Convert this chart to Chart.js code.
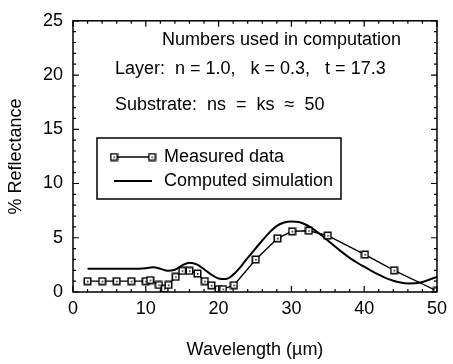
<!DOCTYPE html>
<html>
<head>
<meta charset="utf-8">
<script src="https://cdn.jsdelivr.net/npm/chart.js@4/dist/chart.umd.min.js"></script>
<style>
  html, body { margin: 0; padding: 0; background: #fff; }
  #wrap { width: 453px; height: 364px; }
</style>
</head>
<body>
<div id="wrap"><canvas id="chart" width="453" height="364"></canvas></div>
<script>
// Measured reflectance points
const measuredX = [2, 4, 6, 8, 10, 10.6, 11.8, 12.6, 13.1, 14.1, 15, 16, 17.1, 18.1, 19, 20, 20.6, 22.1, 25.1, 28.1, 30.1, 32.4, 35, 40.1, 44.1, 50];
const measuredY = [1, 1, 1, 1, 1, 1.1, 0.65, 0.3, 0.65, 1.4, 1.95, 1.95, 1.7, 1.0, 0.62, 0.27, 0.27, 0.63, 3.0, 4.95, 5.6, 5.65, 5.2, 3.45, 2.0, 0.1];

// Computed simulation curve
const simX = [2, 4, 6, 8, 10, 11, 12, 13, 14, 15, 16, 17, 18, 19, 20, 21, 22, 23, 24, 25, 26, 27, 28, 29, 30, 31, 32, 33, 34, 35, 36, 37, 38, 39, 40, 41, 42, 43, 44, 45, 46, 47, 48, 49, 50];
const simY = [2.15, 2.15, 2.15, 2.15, 2.2, 2.28, 2.15, 1.95, 2.05, 2.45, 2.7, 2.55, 2.1, 1.6, 1.25, 1.2, 1.6, 2.3, 3.15, 3.95, 4.75, 5.5, 6.1, 6.4, 6.5, 6.45, 6.2, 5.8, 5.3, 4.75, 4.2, 3.65, 3.15, 2.72, 2.33, 1.95, 1.6, 1.28, 1.03, 0.87, 0.79, 0.8, 0.93, 1.15, 1.4];

const seriesLabels = ['Measured data', 'Computed simulation'];
const noteLines = [
    'Numbers used in computation',
    'Layer:  n = 1.0,   k = 0.3,   t = 17.3',
    'Substrate:  ns  =  ks  \u2248  50'
];

const FONT = '"Liberation Sans", Arial, Helvetica, sans-serif';

// Square marker with a dot in the middle
function makeMarker() {
    const c = document.createElement('canvas');
    c.width = 9; c.height = 9;
    const g = c.getContext('2d');
    g.fillStyle = '#fff';
    g.fillRect(1, 1, 7, 7);
    g.strokeStyle = '#000';
    g.lineWidth = 1.5;
    g.strokeRect(1.25, 1.25, 6.5, 6.5);
    g.fillStyle = '#000';
    g.fillRect(4, 4, 1.5, 1.5);
    return c;
}
const marker = makeMarker();

const toPoints = (xs, ys) => xs.map((x, i) => ({ x: x, y: ys[i] }));

// Frame, inward ticks, notes and the boxed legend
const framePlugin = {
    id: 'frame',
    afterDraw(chart) {
        const ctx = chart.ctx;
        const a = chart.chartArea;
        const xs = chart.scales.x, ys = chart.scales.y;
        ctx.save();
        ctx.strokeStyle = '#000';
        ctx.lineWidth = 1.5;
        ctx.strokeRect(a.left, a.top, a.right - a.left, a.bottom - a.top);

        ctx.lineWidth = 1.2;
        ctx.beginPath();
        for (let v = 0; v <= 50; v += 2) {
            const px = xs.getPixelForValue(v);
            const len = v % 10 === 0 ? 6 : 3;
            ctx.moveTo(px, a.bottom); ctx.lineTo(px, a.bottom - len);
            ctx.moveTo(px, a.top); ctx.lineTo(px, a.top + len);
        }
        for (let v = 0; v <= 25; v += 1) {
            const py = ys.getPixelForValue(v);
            const len = v % 5 === 0 ? 6 : 3;
            ctx.moveTo(a.left, py); ctx.lineTo(a.left + len, py);
            ctx.moveTo(a.right, py); ctx.lineTo(a.right - len, py);
        }
        ctx.stroke();

        // notes
        ctx.fillStyle = '#000';
        ctx.font = '18px ' + FONT;
        ctx.textBaseline = 'middle';
        ctx.textAlign = 'left';
        ctx.fillText(noteLines[0], 162, 40);
        ctx.fillText(noteLines[1], 115, 69);
        ctx.fillText(noteLines[2], 115, 105);

        // legend box
        ctx.lineWidth = 1.5;
        ctx.strokeRect(97, 138, 244, 61);
        const rows = [157, 181];
        chart.data.datasets.forEach((ds, i) => {
            const y = rows[i];
            ctx.strokeStyle = ds.borderColor;
            ctx.lineWidth = ds.borderWidth;
            ctx.beginPath();
            ctx.moveTo(114, y); ctx.lineTo(152, y);
            ctx.stroke();
            if (i === 0) {
                ctx.drawImage(marker, 114 - 4.5, y - 4.5);
                ctx.drawImage(marker, 152 - 4.5, y - 4.5);
            }
            ctx.fillText(ds.label, 164, y);
        });
        ctx.restore();
    }
};

const ctx = document.getElementById('chart').getContext('2d');
const chart = new Chart(ctx, {
    type: 'line',
    data: {
        datasets: [
            {
                label: seriesLabels[0],
                data: toPoints(measuredX, measuredY),
                borderColor: '#000',
                borderWidth: 1.4,
                tension: 0,
                pointStyle: marker,
                pointRadius: 4,
                fill: false
            },
            {
                label: seriesLabels[1],
                data: toPoints(simX, simY),
                borderColor: '#000',
                borderWidth: 2,
                cubicInterpolationMode: 'monotone',
                pointRadius: 0,
                fill: false
            }
        ]
    },
    options: {
        responsive: false,
        devicePixelRatio: 1,
        animation: false,
        layout: { padding: { left: 0, right: 10, top: 15, bottom: 0 } },
        plugins: { legend: { display: false }, tooltip: { enabled: false } },
        scales: {
            x: {
                type: 'linear',
                min: 0, max: 50,
                afterFit: s => { s.height = 72; },
                grid: { display: false, drawTicks: false },
                border: { display: false },
                ticks: { stepSize: 10, color: '#000', padding: 6, maxRotation: 0, font: { size: 18, family: FONT } },
                title: { display: true, text: 'Wavelength (\u00b5m)', color: '#000', padding: { top: 0, bottom: 3 }, font: { size: 18, family: FONT } }
            },
            y: {
                type: 'linear',
                min: 0, max: 25,
                afterFit: s => { s.width = 73; },
                grid: { display: false, drawTicks: false },
                border: { display: false },
                ticks: { stepSize: 5, color: '#000', padding: 10, font: { size: 18, family: FONT } },
                title: { display: true, text: '% Reflectance', color: '#000', padding: { top: 5, bottom: 0 }, font: { size: 18, family: FONT } }
            }
        }
    },
    plugins: [framePlugin]
});
</script>
</body>
</html>
